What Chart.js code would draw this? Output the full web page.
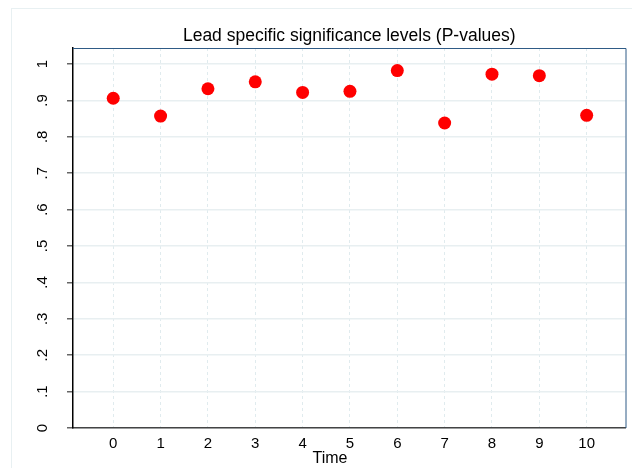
<!DOCTYPE html>
<html>
<head>
<meta charset="utf-8">
<script src="https://cdn.jsdelivr.net/npm/chart.js@4/dist/chart.umd.min.js"></script>
<style>
  html, body { margin: 0; padding: 0; background: #fff; }
  #wrap { width: 632px; height: 468px; }
</style>
</head>
<body>
<div id="wrap"><canvas id="pvalChart" width="632" height="468"></canvas></div>
<script>
// data
const leads = [0, 1, 2, 3, 4, 5, 6, 7, 8, 9, 10];
const pValues = [0.906, 0.857, 0.932, 0.951, 0.922, 0.925, 0.982, 0.838, 0.972, 0.968, 0.859];
const chartTitle = 'Lead specific significance levels (P-values)';
const xTitle = 'Time';

const FONT = "Arial, 'Liberation Sans', Helvetica, sans-serif";

// Stata style y labels: 0 .1 .2 ... 1
function stataLabel(v) {
    const r = Math.round(v * 10) / 10;
    if (r === 0) return '0';
    if (r === 1) return '1';
    return r.toFixed(1).replace(/^0/, '');
}

const framePlugin = {
    id: 'stataFrame',
    beforeDraw(chart) {
        const ctx = chart.ctx;
        ctx.save();
        ctx.fillStyle = '#ffffff';
        ctx.fillRect(0, 0, chart.width, chart.height);
        ctx.strokeStyle = '#e8f0f2';
        ctx.lineWidth = 1;
        ctx.strokeRect(11.5, 8.5, chart.width + 20, chart.height + 20);
        ctx.restore();
    },
    afterDraw(chart) {
        const ctx = chart.ctx;
        const a = chart.chartArea;
        ctx.save();
        // top and right border in navy
        ctx.strokeStyle = '#2f5b86';
        ctx.lineWidth = 1;
        ctx.beginPath();
        ctx.moveTo(a.left, a.top + 0.5);
        ctx.lineTo(a.right + 0.5, a.top + 0.5);
        ctx.lineTo(a.right + 0.5, a.bottom);
        ctx.stroke();

        ctx.fillStyle = '#000';
        ctx.textAlign = 'center';
        ctx.textBaseline = 'middle';
        ctx.font = '17.5px ' + FONT;
        ctx.fillText(chartTitle, (a.left + a.right) / 2, 36);
        ctx.font = '16px ' + FONT;
        ctx.fillText(xTitle, 330, 459);
        ctx.restore();
    }
};

new Chart(document.getElementById('pvalChart').getContext('2d'), {
    type: 'scatter',
    data: {
        datasets: [{
            data: leads.map((t, i) => ({ x: t, y: pValues[i] })),
            backgroundColor: '#ff0000',
            borderColor: '#ff0000',
            pointRadius: 6.5,
            pointHoverRadius: 6.5,
            borderWidth: 0
        }]
    },
    options: {
        responsive: false,
        animation: false,
        layout: { padding: { top: 48, right: 5, left: 0, bottom: 0 } },
        plugins: {
            legend: { display: false },
            tooltip: { enabled: false },
            title: { display: false }
        },
        scales: {
            x: {
                type: 'linear',
                min: -0.85,
                max: 10.82,
                afterFit(scale) { scale.height = 40; },
                ticks: {
                    stepSize: 1,
                    includeBounds: false,
                    color: '#000',
                    font: { family: FONT, size: 15 },
                    padding: 7,
                    maxRotation: 0
                },
                grid: {
                    color: '#e0ebee',
                    drawTicks: false
                },
                border: { color: '#444', width: 1.5, dash: [3, 3] }
            },
            y: {
                min: 0,
                max: 1.044,
                afterFit(scale) { scale.width = 73; },
                ticks: {
                    stepSize: 0.1,
                    includeBounds: false,
                    color: '#000',
                    font: { family: FONT, size: 15 },
                    minRotation: 90,
                    maxRotation: 90,
                    crossAlign: 'center',
                    padding: 18,
                    callback: v => stataLabel(v)
                },
                grid: {
                    color: '#e8eff1',
                    lineWidth: 1.5,
                    tickColor: '#666',
                    tickLength: 6
                },
                border: { color: '#000', width: 1.5 }
            }
        }
    },
    plugins: [framePlugin]
});
</script>
</body>
</html>
